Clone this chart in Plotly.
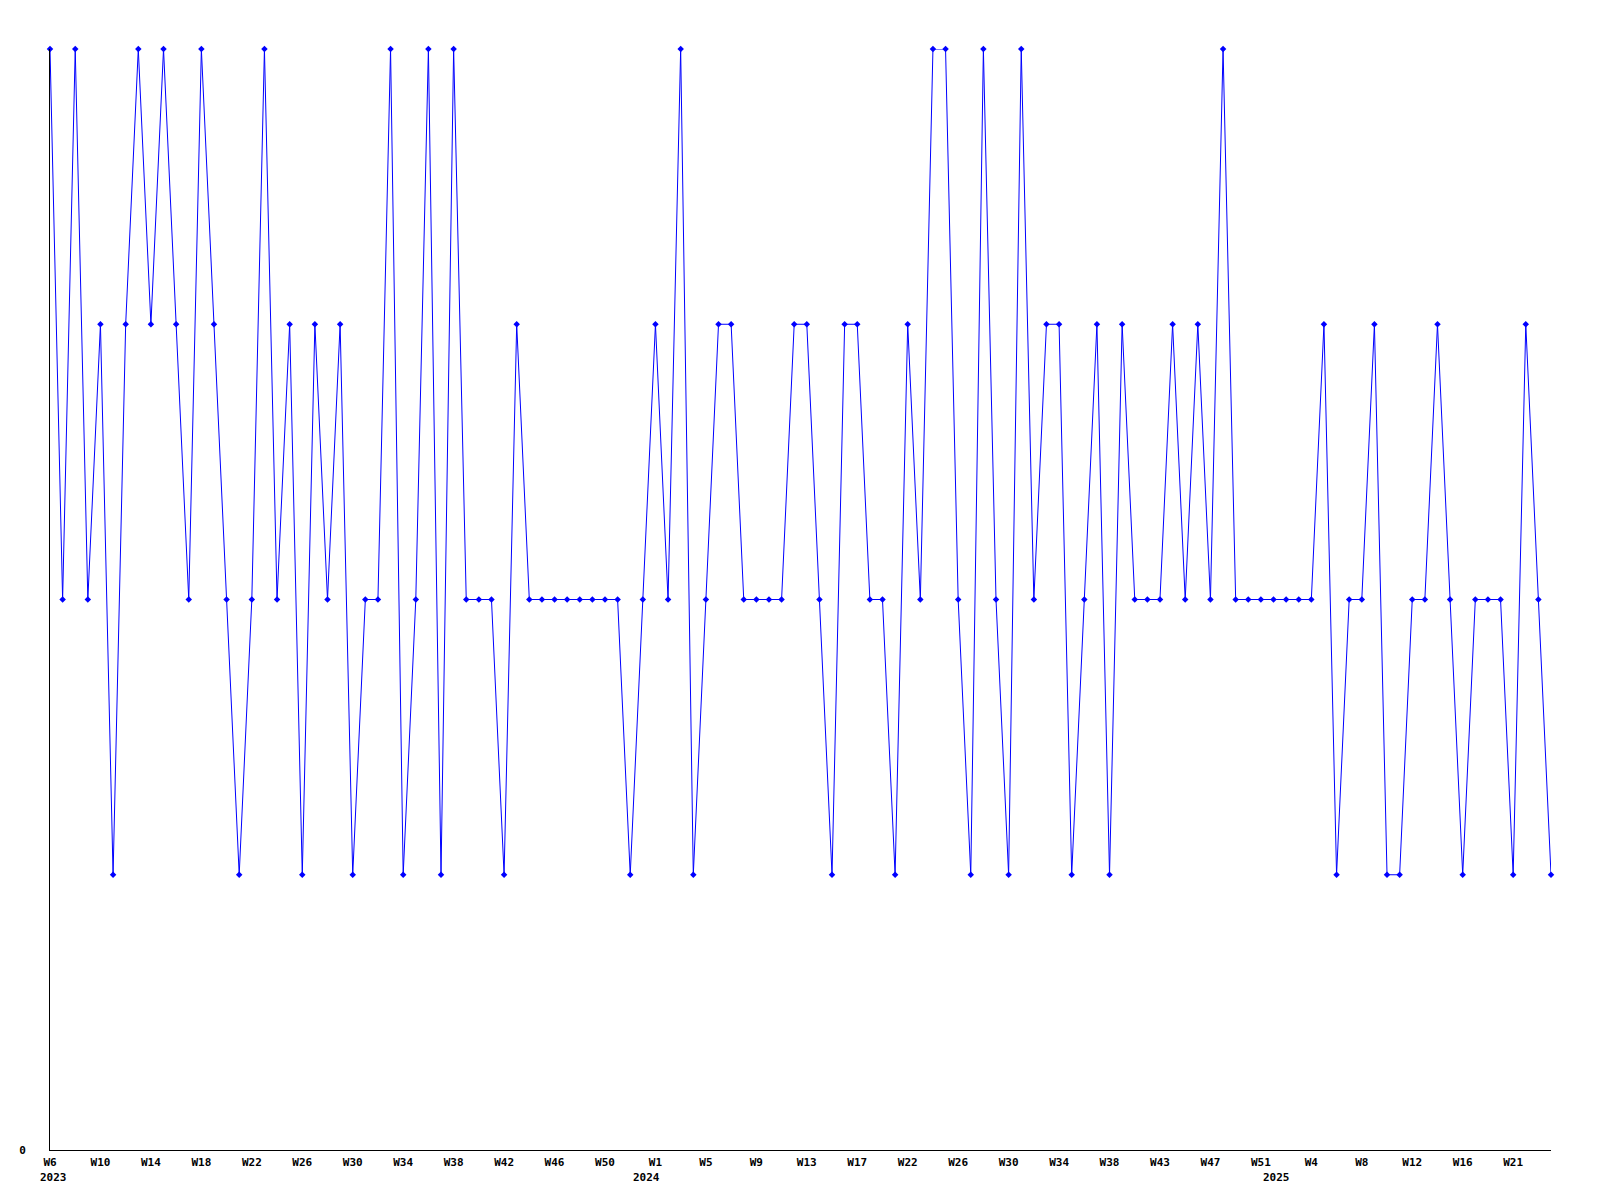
import plotly.graph_objects as go

# Weekly values, starting at W6 2023 (one value per week)
values = [
    4, 2, 4, 2, 3, 1, 3, 4, 3, 4, 3, 2, 4, 3, 2, 1, 2, 4, 2, 3, 1, 3, 2, 3,
    1, 2, 2, 4, 1, 2, 4, 1, 4, 2, 2, 2, 1, 3, 2, 2, 2, 2, 2, 2, 2, 2, 1, 2,
    3, 2, 4, 1, 2, 3, 3, 2, 2, 2, 2, 3, 3, 2, 1, 3, 3, 2, 2, 1, 3, 2, 4, 4,
    2, 1, 4, 2, 1, 4, 2, 3, 3, 1, 2, 3, 1, 3, 2, 2, 2, 3, 2, 3, 2, 4, 2, 2,
    2, 2, 2, 2, 2, 3, 1, 2, 2, 3, 1, 1, 2, 2, 3, 2, 1, 2, 2, 2, 1, 3, 2, 1,
]

# Week tick labels (one every 4 weeks)
week_labels = ["W6", "W10", "W14", "W18", "W22", "W26", "W30", "W34", "W38",
               "W42", "W46", "W50", "W1", "W5", "W9", "W13", "W17", "W22",
               "W26", "W30", "W34", "W38", "W43", "W47", "W51", "W4", "W8",
               "W12", "W16", "W21"]
tick_step = 4

# Year labels and the week index where each is shown
years = ["2023", "2024", "2025"]
year_pos = [0.3, 47.3, 97.2]

weeks = list(range(len(values)))
tick_vals = [i * tick_step for i in range(len(week_labels))]

FONT = "DejaVu Sans Mono"

fig = go.Figure()
fig.add_trace(go.Scatter(
    x=weeks, y=values, mode="lines+markers",
    line=dict(color="#0000FF", width=1),
    marker=dict(symbol="diamond", size=5, color="#0000FF"),
    cliponaxis=False,
    showlegend=False,
))

for label, pos in zip(years, year_pos):
    fig.add_annotation(
        x=pos, y=0, xref="x", yref="paper", yanchor="top",
        yshift=-19, text="<b>%s</b>" % label, showarrow=False,
        font=dict(family=FONT, size=11, color="#000000"),
    )

fig.update_layout(
    width=1600, height=1200,
    margin=dict(l=42, r=57, t=41, b=58),
    paper_bgcolor="#FFFFFF", plot_bgcolor="#FFFFFF",
    font=dict(family=FONT, size=11, color="#000000"),
    xaxis=dict(
        range=[0, 119], showgrid=False, zeroline=False,
        showline=True, linecolor="#000000", linewidth=1,
        tickvals=tick_vals,
        ticktext=["<b>%s</b>" % t for t in week_labels],
        ticks="", ticklabelstandoff=2,
        tickfont=dict(family=FONT, size=11, color="#000000"),
    ),
    yaxis=dict(
        range=[0, 4], showgrid=False, zeroline=False,
        showline=True, linecolor="#000000", linewidth=1,
        tickvals=[0], ticktext=["<b>0</b>"], ticks="",
        ticklabelstandoff=21,
        tickfont=dict(family=FONT, size=11, color="#000000"),
    ),
)

fig.write_html("out.html")
